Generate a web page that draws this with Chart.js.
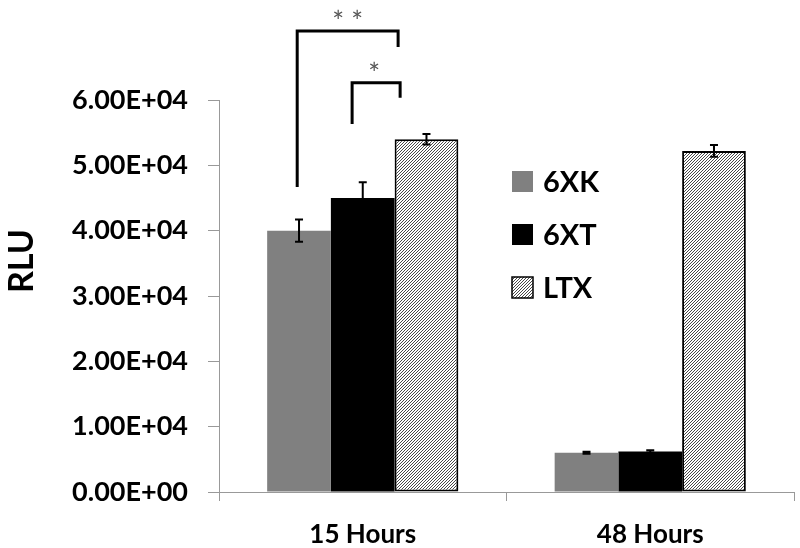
<!DOCTYPE html>
<html>

<head>
  <title>RLU by time</title>
  <script src="https://cdn.jsdelivr.net/npm/chart.js"></script>
  <style>
    body { margin: 0; background: #fff; }
  </style>
</head>

<body>
  <canvas id="myChart" width="800" height="548"></canvas>
  <script>
    // data
    var categories = ['15 Hours', '48 Hours'];
    var seriesNames = ['6XK', '6XT', 'LTX'];
    var values6XK = [40000, 6000];
    var values6XT = [45000, 6200];
    var valuesLTX = [54000, 52200];
    var err6XK = [1700, 150];
    var err6XT = [2400, 200];
    var errLTX = [800, 900];
    var yTicks = [0, 10000, 20000, 30000, 40000, 50000, 60000];
    var yTitle = 'RLU';

    // significance brackets, in category units (x) and RLU (y)
    var sigText = ['**', '*'];
    var sigLeftX = [-0.228, -0.037];
    var sigRightX = [0.123, 0.130];
    var sigTopY = [70560, 62650];
    var sigLeftEndY = [46690, 56330];
    var sigRightEndY = [68120, 60350];

    var FONT = 'Lato';
    var AXIS_GRAY = '#999999';

    function sciLabel(v) {
      if (v === 0) return '0.00E+00';
      var exp = Math.floor(Math.log10(Math.abs(v)));
      var mant = v / Math.pow(10, exp);
      var e = String(Math.abs(exp)).padStart(2, '0');
      return mant.toFixed(2) + 'E' + (exp < 0 ? '-' : '+') + e;
    }

    function makeHatch() {
      var c = document.createElement('canvas');
      c.width = 3;
      c.height = 3;
      var g = c.getContext('2d');
      g.fillStyle = '#fff';
      g.fillRect(0, 0, 3, 3);
      g.strokeStyle = '#333';
      g.lineWidth = 0.9;
      g.beginPath();
      g.moveTo(0, 3); g.lineTo(3, 0);
      g.moveTo(-1, 1); g.lineTo(1, -1);
      g.moveTo(2, 4); g.lineTo(4, 2);
      g.stroke();
      return g.createPattern(c, 'repeat');
    }
    var hatch = makeHatch();

    var errorBars = {
      id: 'errorBars',
      afterDatasetsDraw: function (chart) {
        var ctx = chart.ctx;
        var y = chart.scales.y;
        ctx.save();
        ctx.strokeStyle = '#000';
        ctx.lineWidth = 2;
        chart.data.datasets.forEach(function (ds, i) {
          var meta = chart.getDatasetMeta(i);
          meta.data.forEach(function (bar, j) {
            var v = ds.data[j], e = ds.errors[j];
            var top = y.getPixelForValue(v + e);
            var bot = y.getPixelForValue(v - e);
            ctx.beginPath();
            ctx.moveTo(bar.x, top); ctx.lineTo(bar.x, bot);
            ctx.moveTo(bar.x - 4, top); ctx.lineTo(bar.x + 4, top);
            ctx.moveTo(bar.x - 4, bot); ctx.lineTo(bar.x + 4, bot);
            ctx.stroke();
          });
        });
        ctx.restore();
      }
    };

    var brackets = {
      id: 'brackets',
      afterDraw: function (chart) {
        var ctx = chart.ctx;
        var xs = chart.scales.x, ys = chart.scales.y;
        ctx.save();
        ctx.strokeStyle = '#000';
        ctx.lineWidth = 3;
        ctx.lineJoin = 'miter';
        sigText.forEach(function (t, i) {
          var x1 = xs.getPixelForValue(sigLeftX[i]);
          var x2 = xs.getPixelForValue(sigRightX[i]);
          var yt = ys.getPixelForValue(sigTopY[i]);
          ctx.beginPath();
          ctx.moveTo(x1, ys.getPixelForValue(sigLeftEndY[i]));
          ctx.lineTo(x1, yt);
          ctx.lineTo(x2, yt);
          ctx.lineTo(x2, ys.getPixelForValue(sigRightEndY[i]));
          ctx.stroke();
          ctx.fillStyle = '#555';
          ctx.font = '28px ' + FONT;
          ctx.textAlign = 'center';
          ctx.textBaseline = 'alphabetic';
          ctx.fillText(t.split('').join(' '), (x1 + x2) / 2 + (t.length === 1 ? -2 : 0), yt + 1);
        });
        ctx.restore();
      }
    };

    var insideLegend = {
      id: 'insideLegend',
      afterDraw: function (chart) {
        var ctx = chart.ctx;
        ctx.save();
        chart.data.datasets.forEach(function (ds, i) {
          var bx = 512, by = 171 + i * 53, s = 21;
          ctx.fillStyle = ds.backgroundColor;
          ctx.fillRect(bx, by, s, s);
          if (ds.borderWidth) {
            ctx.strokeStyle = '#000';
            ctx.lineWidth = 1.5;
            ctx.strokeRect(bx, by, s, s);
          }
          ctx.fillStyle = '#000';
          ctx.font = 'bold 29px ' + FONT;
          ctx.textAlign = 'left';
          ctx.textBaseline = 'alphabetic';
          ctx.fillText(ds.label, 543, by + s);
        });
        ctx.restore();
      }
    };

    // y title drawn by hand so it can sit a bit above the axis middle, as in the source
    var yTitlePlugin = {
      id: 'yTitle',
      afterDraw: function (chart) {
        var ctx = chart.ctx;
        ctx.save();
        ctx.translate(33, 261);
        ctx.rotate(-Math.PI / 2);
        ctx.fillStyle = '#000';
        ctx.font = 'bold 34px ' + FONT;
        ctx.textAlign = 'center';
        ctx.textBaseline = 'alphabetic';
        ctx.fillText(yTitle, 0, 0);
        ctx.restore();
      }
    };

    var ctx = document.getElementById('myChart').getContext('2d');
    var chart = new Chart(ctx, {
      type: 'bar',
      data: {
        labels: categories,
        datasets: [
          {
            label: seriesNames[0],
            data: values6XK,
            errors: err6XK,
            backgroundColor: '#808080',
            borderWidth: 0
          },
          {
            label: seriesNames[1],
            data: values6XT,
            errors: err6XT,
            backgroundColor: '#000000',
            borderWidth: 0
          },
          {
            label: seriesNames[2],
            data: valuesLTX,
            errors: errLTX,
            backgroundColor: hatch,
            borderColor: '#000',
            borderWidth: 2,
            borderSkipped: false
          }
        ]
      },
      options: {
        responsive: false,
        animation: false,
        categoryPercentage: 0.665,
        barPercentage: 1.0,
        layout: { padding: { top: 100, right: 6, left: 0, bottom: 0 } },
        plugins: {
          legend: { display: false },
          tooltip: { enabled: false }
        },
        scales: {
          x: {
            grid: { offset: true, drawOnChartArea: false, drawTicks: true, tickLength: 9, color: AXIS_GRAY },
            border: { color: AXIS_GRAY, width: 1 },
            ticks: { color: '#000', padding: 18, font: { family: FONT, weight: 'bold', size: 26 } },
            afterFit: function (s) { s.height = 56; }
          },
          y: {
            min: 0,
            max: 60000,
            afterBuildTicks: function (s) { s.ticks = yTicks.map(function (v) { return { value: v }; }); },
            grid: { drawOnChartArea: false, drawTicks: true, tickLength: 11, color: AXIS_GRAY },
            border: { color: AXIS_GRAY, width: 1 },
            ticks: {
              color: '#000',
              padding: 20,
              font: { family: FONT, weight: 'bold', size: 27 },
              callback: function (v) { return sciLabel(v); }
            },
            title: { display: false },
            afterFit: function (s) { s.width = 219; }
          }
        }
      },
      plugins: [errorBars, brackets, insideLegend, yTitlePlugin]
    });
  </script>
</body>

</html>
